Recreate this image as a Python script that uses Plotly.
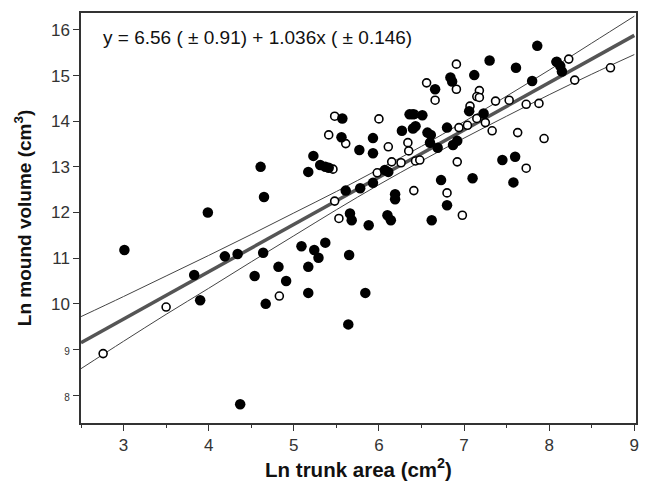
import plotly.graph_objects as go

# Filled circles
filled_x = [3.01, 3.99, 4.61, 4.65, 5.17, 5.23, 5.31, 5.37, 5.41, 3.83, 3.90, 4.19, 4.34, 4.64,
            4.54, 4.82, 4.91, 4.67, 5.09, 5.24, 5.29, 5.17, 5.17, 5.37, 4.37, 5.65, 5.84, 5.64,
            7.86, 7.30, 7.61, 7.12, 6.84, 6.86, 6.66, 7.80, 8.09, 8.15, 8.13, 7.06, 7.23, 6.80,
            6.36, 6.40, 6.51, 6.27, 6.40, 6.43, 6.57, 6.61, 6.60, 6.69, 6.87, 6.92, 5.93, 5.93,
            5.77, 5.57, 5.56, 6.07, 6.11, 5.93, 5.78, 5.61, 6.19, 6.19, 6.73, 7.10, 6.80, 7.45,
            7.60, 7.58, 5.66, 5.68, 5.88, 6.10, 6.14, 6.62]
filled_y = [11.18, 12.00, 13.00, 12.34, 12.89, 13.24, 13.04, 13.00, 12.98, 10.63, 10.08, 11.04, 11.09, 11.12,
            10.61, 10.81, 10.50, 10.00, 11.26, 11.18, 11.01, 10.81, 10.24, 11.34, 7.80, 11.07, 10.24, 9.55,
            15.65, 15.33, 15.17, 15.01, 14.96, 14.87, 14.70, 14.88, 15.30, 15.09, 15.21, 14.22, 14.17, 13.86,
            14.15, 14.15, 14.13, 13.79, 13.84, 13.89, 13.75, 13.70, 13.53, 13.42, 13.48, 13.57, 13.63, 13.30,
            13.37, 14.06, 13.65, 12.93, 12.89, 12.65, 12.53, 12.48, 12.40, 12.29, 12.71, 12.75, 12.16, 13.15,
            13.22, 12.66, 11.98, 11.83, 11.72, 11.94, 11.83, 11.83]

# Open circles
open_x = [3.50, 2.76, 4.83, 6.91, 6.56, 6.91, 6.66, 7.18, 7.15, 7.18, 7.37, 7.53, 7.73, 7.88,
          8.23, 8.08, 8.30, 8.72, 7.07, 7.25, 7.33, 7.15, 7.04, 6.94, 7.63, 7.94, 6.42, 6.34,
          6.35, 6.92, 6.11, 6.00, 5.48, 5.41, 5.61, 5.46, 6.15, 6.26, 6.43, 6.48, 5.98, 5.48,
          6.41, 6.80, 6.98, 7.73, 5.53]
open_y = [9.93, 8.91, 10.17, 15.25, 14.84, 14.70, 14.46, 14.67, 14.54, 14.52, 14.44, 14.46, 14.37, 14.39,
          15.36, 15.30, 14.90, 15.17, 14.33, 13.97, 13.79, 14.06, 13.91, 13.86, 13.75, 13.62, 14.15, 13.53,
          13.35, 13.11, 13.44, 14.05, 14.11, 13.70, 13.51, 12.95, 13.11, 13.09, 13.13, 13.15, 12.87, 12.25,
          12.48, 12.43, 11.94, 12.97, 11.87]

# Regression line endpoints and confidence band
fit_x = [2.5, 9.0]
fit_y = [9.15, 15.88]
band_x = [2.5, 3, 3.5, 4, 4.5, 5, 5.5, 6, 6.5, 7, 7.5, 8, 8.5, 9]
band_upper = [9.72, 10.16, 10.61, 11.06, 11.52, 11.99, 12.46, 12.95, 13.45, 13.99, 14.55, 15.12, 15.71, 16.30]
band_lower = [8.58, 9.18, 9.77, 10.34, 10.92, 11.49, 12.06, 12.61, 13.13, 13.63, 14.11, 14.58, 15.03, 15.46]

y_ticks = [8, 9, 10, 11, 12, 13, 14, 15, 16]
y_ticktext = ['<span style="font-size:10px">8</span>', '<span style="font-size:10px">9</span>',
              '10', '11', '12', '13', '14', '15', '16']
x_ticks = [3, 4, 5, 6, 7, 8, 9]

equation = "y = 6.56 ( \u00b1 0.91) + 1.036x ( \u00b1 0.146)"

fig = go.Figure()
fig.add_trace(go.Scatter(x=band_x, y=band_upper, mode="lines", line=dict(color="#444", width=1, shape="spline"),
                         hoverinfo="skip"))
fig.add_trace(go.Scatter(x=band_x, y=band_lower, mode="lines", line=dict(color="#444", width=1, shape="spline"),
                         hoverinfo="skip"))
fig.add_trace(go.Scatter(x=fit_x, y=fit_y, mode="lines", line=dict(color="#555", width=3.5)))
fig.add_trace(go.Scatter(x=open_x, y=open_y, mode="markers",
                         marker=dict(size=8, color="white", line=dict(color="black", width=1.6))))
fig.add_trace(go.Scatter(x=filled_x, y=filled_y, mode="markers",
                         marker=dict(size=10.5, color="black", line=dict(width=0))))

fig.add_annotation(x=2.73, y=15.84, xref="x", yref="y", text=equation, showarrow=False,
                   xanchor="left", yanchor="middle", font=dict(size=19, color="#111"))

fig.update_layout(
    width=646, height=481, showlegend=False,
    plot_bgcolor="white", paper_bgcolor="white",
    margin=dict(l=81, r=10, t=13, b=58),
    font=dict(family="Liberation Sans, Arial, sans-serif", color="#222"),
)
fig.update_xaxes(range=[2.5, 9.02], tickvals=x_ticks, ticks="outside", ticklen=6, tickwidth=1.3,
                 tickcolor="#333", showline=True, linecolor="#333", linewidth=1.5, mirror=True,
                 showgrid=False, zeroline=False, tickfont=dict(size=17, color="#333"), automargin=False,
                 minor=dict(dtick=0.5, tick0=0, ticks="outside", ticklen=3, tickwidth=1.2, tickcolor="#333"),
                 title=dict(text="<b>Ln trunk area (cm<sup>2</sup>)</b>", font=dict(size=20.5, color="#111"),
                            standoff=6))
fig.update_yaxes(range=[7.39, 16.37], tickvals=y_ticks, ticktext=y_ticktext, ticks="outside", ticklen=6,
                 tickwidth=1.3, tickcolor="#333", showline=True, linecolor="#333", linewidth=1.5, mirror=True,
                 showgrid=False, zeroline=False, tickfont=dict(size=17, color="#333"), automargin=False,
                 title=dict(text="<b>Ln mound volume (cm<sup>3</sup>)</b>", font=dict(size=19, color="#111"),
                            standoff=14))

fig.write_html("out.html", config={"displayModeBar": False},
               post_script="document.body.style.margin='0';document.body.style.overflow='hidden';")
